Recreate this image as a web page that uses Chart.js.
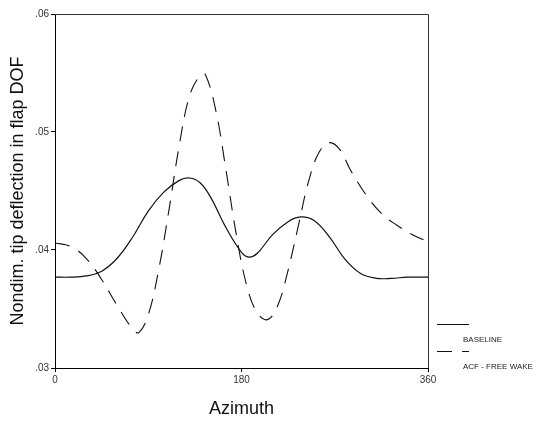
<!DOCTYPE html>
<html>
<head>
<meta charset="utf-8">
<script src="https://cdn.jsdelivr.net/npm/chart.js@4.4.1/dist/chart.umd.min.js"></script>
<style>
  html, body { margin: 0; padding: 0; background: #fff; }
  #wrap { width: 554px; height: 424px; }
</style>
</head>
<body>
<div id="wrap"><canvas id="myChart" width="554" height="424"></canvas></div>
<script>
// azimuth (deg) and nondimensional tip deflection
var baselineAzimuth = [0, 15, 30, 45, 60, 75, 90, 105, 120, 130, 140, 150, 165, 180, 187, 195, 210, 225, 237, 250, 265, 280, 295, 310, 325, 340, 360];
var baselineValues  = [.0377, .0377, .0378, .0382, .0393, .0411, .0433, .0449, .0459, .0461, .0457, .0445, .0419, .0398, .0394, .0397, .0413, .0424, .0428, .0425, .0411, .0392, .0380, .0376, .0376, .0377, .0377];

var acfAzimuth = [0, 15, 30, 45, 60, 75, 81, 90, 100, 110, 120, 130, 140, 145, 155, 165, 175, 185, 195, 205, 215, 225, 235, 245, 255, 265, 275, 285, 300, 315, 330, 345, 360];
var acfValues  = [.0406, .0403, .0393, .0375, .0353, .0333, .0330, .0345, .0383, .0434, .0489, .0531, .0548, .0549, .0519, .0468, .0413, .0370, .0347, .0341, .0353, .0383, .0421, .0459, .0483, .0491, .0485, .0468, .0447, .0431, .0421, .0413, .0407];

var seriesLabels = ['BASELINE', 'ACF - FREE WAKE'];
var yTicks = [.03, .04, .05, .06];
var xTicks = [0, 180, 360];

function toPoints(xs, ys) {
    var pts = [];
    for (var i = 0; i < xs.length; i++) pts.push({x: xs[i], y: ys[i]});
    return pts;
}

// top/right frame plus the odd stacked legend on the right
const framePlugin = {
    id: 'frame',
    afterDraw(chart) {
        const c = chart.ctx, a = chart.chartArea;
        c.save();
        c.strokeStyle = '#333';
        c.lineWidth = 1;
        c.beginPath();
        c.moveTo(a.left, a.top + 0.5);
        c.lineTo(a.right + 0.5, a.top + 0.5);
        c.lineTo(a.right + 0.5, a.bottom);
        c.stroke();

        const x0 = a.right + 9;
        c.font = '8px "Liberation Sans", Arial, sans-serif';
        c.fillStyle = '#222';
        c.textBaseline = 'middle';
        chart.data.datasets.forEach((ds, i) => {
            const ly = 324 + i * 27;
            c.strokeStyle = '#111';
            c.lineWidth = 1;
            c.setLineDash(ds.borderDash || []);
            c.beginPath();
            c.moveTo(x0, ly + 0.5);
            c.lineTo(x0 + 32, ly + 0.5);
            c.stroke();
            c.setLineDash([]);
            c.fillText(ds.label, x0 + 26, ly + 16);
        });
        c.restore();
    }
};

const ctx = document.getElementById('myChart');

var chart_config = {
    type: 'scatter',
    data: {
        datasets: [{
            label: seriesLabels[0],
            data: toPoints(baselineAzimuth, baselineValues),
            showLine: true,
            tension: 0.4,
            borderColor: '#111',
            borderWidth: 1.2,
            pointRadius: 0
        }, {
            label: seriesLabels[1],
            data: toPoints(acfAzimuth, acfValues),
            showLine: true,
            tension: 0.4,
            borderColor: '#111',
            borderWidth: 1.1,
            borderDash: [15, 10],
            pointRadius: 0
        }]
    },
    options: {
        responsive: false,
        animation: false,
        layout: { padding: { left: 0, top: 14, right: 126, bottom: 0 } },
        plugins: {
            legend: { display: false },
            tooltip: { enabled: false }
        },
        scales: {
            x: {
                type: 'linear',
                min: 0,
                max: 360,
                afterBuildTicks: s => { s.ticks = xTicks.map(v => ({value: v})); },
                afterFit: s => { s.height = 56; },
                grid: { drawOnChartArea: false, tickLength: 4, tickColor: '#000' },
                border: { color: '#000', width: 1 },
                ticks: {
                    color: '#333',
                    padding: 2,
                    maxRotation: 0,
                    font: { family: '"Liberation Sans", Arial, sans-serif', size: 10 }
                },
                title: {
                    display: true,
                    text: 'Azimuth',
                    color: '#111',
                    padding: { top: 0, bottom: 4 },
                    font: { family: '"Liberation Sans", Arial, sans-serif', size: 18 }
                }
            },
            y: {
                min: 0.03,
                max: 0.06,
                afterBuildTicks: s => { s.ticks = yTicks.map(v => ({value: v})); },
                afterFit: s => { s.width = 55; },
                grid: { drawOnChartArea: false, tickLength: 4, tickColor: '#000' },
                border: { color: '#000', width: 1 },
                ticks: {
                    color: '#333',
                    padding: 2,
                    font: { family: '"Liberation Sans", Arial, sans-serif', size: 10 },
                    callback: v => v.toFixed(2).replace(/^0/, '')
                },
                title: {
                    display: true,
                    text: 'Nondim. tip deflection in flap DOF',
                    color: '#111',
                    padding: { top: 7, bottom: 0 },
                    font: { family: '"Liberation Sans", Arial, sans-serif', size: 18 }
                }
            }
        }
    },
    plugins: [framePlugin]
};

var chart = new Chart(ctx, chart_config);
</script>
</body>
</html>
